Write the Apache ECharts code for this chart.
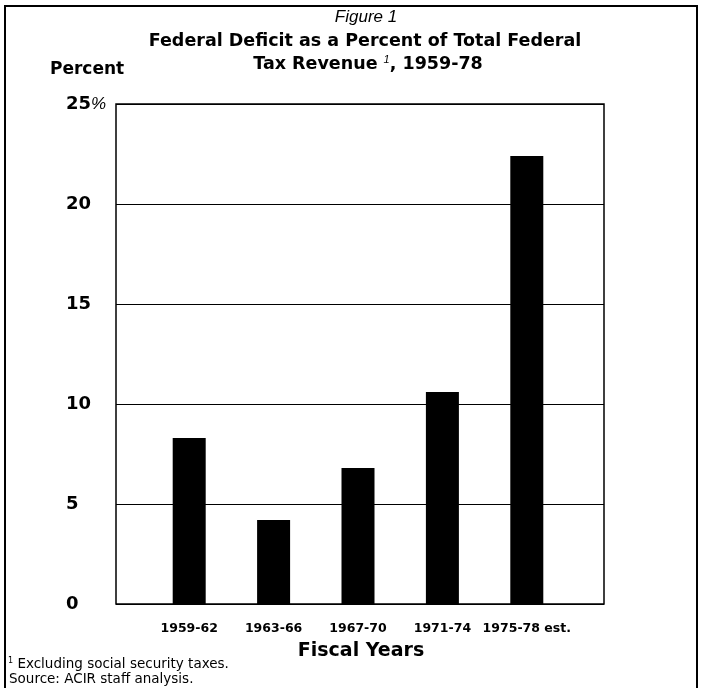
<!DOCTYPE html>
<html>
<head>
<meta charset="utf-8">
<script src="https://cdn.jsdelivr.net/npm/echarts@6/dist/echarts.min.js"></script>
<style>
  html, body { margin: 0; padding: 0; background: #fff; }
  #chart { width: 705px; height: 688px; }
</style>
</head>
<body>
<div id="chart"></div>
<script>
// 数据
const categories = ["1959-62", "1963-66", "1967-70", "1971-74", "1975-78 est."];
const deficitPct = [8.3, 4.2, 6.8, 10.6, 22.4];
const yMax = 25;
const yStep = 5;

const font = "'Liberation Sans', Arial, sans-serif";
const wide = "'DejaVu Sans', sans-serif";

let myChart = echarts.init(document.getElementById("chart"));
myChart.setOption({
  backgroundColor: "#fff",
  animation: false,
  textStyle: { fontFamily: wide, color: "#000" },
  grid: [
    // 外框 + 网格线
    { left: 116, right: 101, top: 104, bottom: 84, show: true, borderColor: "#000", borderWidth: 1.5 },
    // 柱子
    { left: 147, right: 136, top: 104, bottom: 84 },
  ],
  xAxis: [
    {
      gridIndex: 0,
      type: "value",
      min: 0,
      max: 1,
      axisLine: { show: false },
      axisTick: { show: false },
      axisLabel: { show: false },
      splitLine: { show: false },
    },
    {
      gridIndex: 1,
      type: "category",
      data: categories,
      axisLine: { show: false },
      axisTick: { show: false },
      axisLabel: {
        interval: 0,
        margin: 18,
        fontSize: 12.5,
        fontWeight: "bold",
        color: "#000",
        fontFamily: wide,
      },
    },
  ],
  yAxis: [
    {
      gridIndex: 0,
      type: "value",
      min: 0,
      max: yMax,
      interval: yStep,
      axisLine: { show: false },
      axisTick: { show: false },
      splitLine: { lineStyle: { color: "#000", width: 1 } },
      axisLabel: {
        margin: 50,
        align: "left",
        formatter: (v) => (v === yMax ? "{b|" + v + "}{p|%}" : "{b|" + v + "}"),
        rich: {
          b: { fontSize: 18, fontWeight: "bold", color: "#000", fontFamily: wide },
          p: { fontSize: 17, fontStyle: "italic", color: "#000", fontFamily: font },
        },
      },
    },
    {
      gridIndex: 1,
      type: "value",
      min: 0,
      max: yMax,
      interval: yStep,
      show: false,
    },
  ],
  series: [
    {
      type: "bar",
      xAxisIndex: 1,
      yAxisIndex: 1,
      data: deficitPct,
      barWidth: 33,
      itemStyle: { color: "#000" },
    },
  ],
  graphic: [
    // 外边框
    {
      type: "rect",
      shape: { x: 5, y: 6, width: 692, height: 700 },
      style: { fill: null, stroke: "#000", lineWidth: 2 },
      silent: true,
    },
    {
      type: "text",
      x: 366,
      y: 17,
      style: {
        text: "Figure 1",
        font: "italic 17px " + font,
        fill: "#000",
        textAlign: "center",
        textVerticalAlign: "middle",
      },
    },
    {
      type: "text",
      x: 365,
      y: 41,
      style: {
        text: "Federal Deficit as a Percent of Total Federal",
        font: "bold 17.5px " + wide,
        fill: "#000",
        textAlign: "center",
        textVerticalAlign: "middle",
      },
    },
    {
      type: "text",
      x: 368,
      y: 64,
      style: {
        text: "{t|Tax Revenue }{s|1}{t|, 1959-78}",
        rich: {
          t: { font: "bold 17.5px " + wide, fill: "#000" },
          s: { font: "italic 11px " + font, fill: "#000", padding: [0, 0, 8, 0] },
        },
        textAlign: "center",
        textVerticalAlign: "middle",
      },
    },
    {
      type: "text",
      x: 50,
      y: 70,
      style: {
        text: "Percent",
        font: "bold 17px " + wide,
        fill: "#000",
        textVerticalAlign: "middle",
      },
    },
    {
      type: "text",
      x: 361,
      y: 651,
      style: {
        text: "Fiscal Years",
        font: "bold 19px " + wide,
        fill: "#000",
        textAlign: "center",
        textVerticalAlign: "middle",
      },
    },
    {
      type: "text",
      x: 8,
      y: 664,
      style: {
        text: "{s|1}{t| Excluding social security taxes.}",
        rich: {
          t: { font: "13.5px " + wide, fill: "#000" },
          s: { font: "8px " + wide, fill: "#000", padding: [0, 0, 6, 0] },
        },
        textVerticalAlign: "middle",
      },
    },
    {
      type: "text",
      x: 9,
      y: 679,
      style: {
        text: "Source: ACIR staff analysis.",
        font: "13.5px " + wide,
        fill: "#000",
        textVerticalAlign: "middle",
      },
    },
  ],
});
</script>
</body>
</html>
